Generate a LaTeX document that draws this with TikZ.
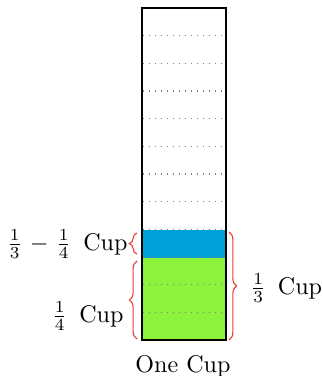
\documentclass[tikz,border=0pt]{standalone}
\usetikzlibrary{decorations.pathreplacing}
\definecolor{cupblue}{RGB}{0,160,218}
\definecolor{cupgreen}{RGB}{140,242,60}
\definecolor{brcred}{RGB}{235,60,60}
\begin{document}
\begin{tikzpicture}[x=0.415pt,y=-0.415pt,
  brc/.style={decorate,decoration={brace,amplitude=3.2pt},draw=brcred,line width=0.45pt},
  divline/.style={gray,dotted,line width=0.5pt},
  lbl/.style={inner sep=0pt}]
\useasboundingbox (0,0) rectangle (322,376);
\coordinate (tl) at (142,8);
\coordinate (br) at (226,340);
\fill[cupgreen] (142,258) rectangle (br);
\fill[cupblue] (142,230.3) rectangle (226,258);
\foreach \k in {1,...,11} \draw[divline] (142.5,{8+\k*27.67}) -- (225.5,{8+\k*27.67});
\draw[line width=0.55pt] (tl) rectangle (br);
% braces
\coordinate (b1s) at (137,254);
\coordinate (b1e) at (137,233);
\coordinate (b2s) at (137,339);
\coordinate (b2e) at (137,261);
\coordinate (b3s) at (229,232);
\coordinate (b3e) at (229,340);
\draw[brc] (b1s) -- (b1e);
\draw[brc] (b2s) -- (b2e);
\draw[brc] (b3s) -- (b3e);
% labels
\node[lbl,anchor=east] (ldiff) at (128,244) {$\frac{1}{3}\mskip1.5mu-\mskip1.5mu\frac{1}{4}$\,\ Cup};
\node[lbl,anchor=east] (lquarter) at (124,316) {$\frac{1}{4}$\,\ Cup};
\node[lbl,anchor=west] (lthird) at (250,288) {$\frac{1}{3}$\,\ Cup};
\node[lbl,anchor=base] (lone) at (183,372) {One Cup};
\end{tikzpicture}
\end{document}
